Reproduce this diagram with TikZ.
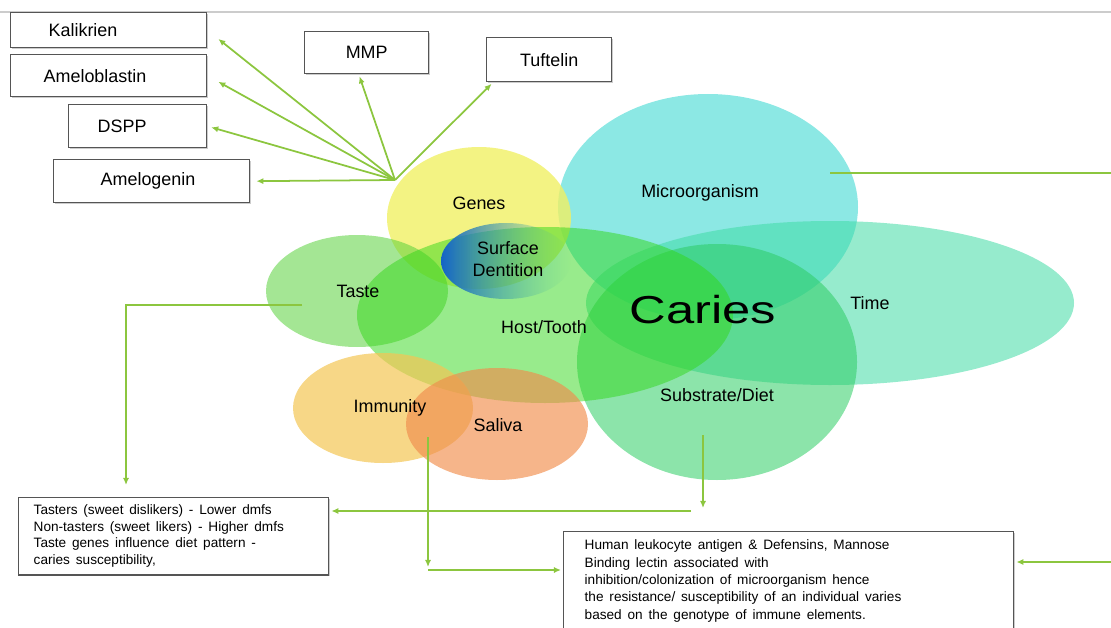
\documentclass[tikz,border=0pt]{standalone}
\usepackage{fontspec}
\setmainfont{Liberation Sans}
\usepackage{graphicx}
\usetikzlibrary{arrows.meta,shadows,fadings}

\definecolor{cGenes}{RGB}{240,240,100}
\definecolor{cMicro}{RGB}{78,220,213}
\definecolor{cTime}{RGB}{64,219,164}
\definecolor{cHost}{RGB}{50,215,25}
\definecolor{cTaste}{RGB}{90,210,60}
\definecolor{cDiet}{RGB}{45,205,100}
\definecolor{cImmun}{RGB}{243,198,84}
\definecolor{cSaliva}{RGB}{241,141,76}
\definecolor{cSurfL}{RGB}{20,100,200}
\definecolor{cSurfR}{RGB}{90,200,150}
\definecolor{cLink}{RGB}{140,198,63}
\definecolor{cFrame}{RGB}{85,85,85}

\newcommand\lbl[1]{{\fontsize{10.2}{13}\selectfont #1}}
\newcommand\boxtext[2]{{\fontsize{7.75}{#1}\selectfont\begin{tabular}{@{}l@{}}#2\end{tabular}}}

\begin{document}
\begin{tikzpicture}[x=0.02cm,y=-0.02cm,
    link/.style={draw=cLink,line width=1pt,-{Latex[length=4pt,width=3.5pt]}},
    frame/.style={draw=cFrame,line width=0.8pt,fill=white,
      drop shadow={shadow xshift=0.8pt,shadow yshift=-0.8pt,fill=black!40,opacity=0.5}},
    genebox/.style={frame,align=left,inner ysep=0pt},
    infobox/.style={frame,align=left}]
  \useasboundingbox (0,0) rectangle (1111,628);
  \draw[black!20,line width=1pt] (0,12) -- (1111,12);

  \fill[cMicro,opacity=0.65] (708,207) ellipse [x radius=150, y radius=113];
  \fill[cTime,opacity=0.55] (830,303) ellipse [x radius=244, y radius=82];
  \fill[cGenes,opacity=0.8] (479,218) ellipse [x radius=92, y radius=71];
  \fill[cTaste,opacity=0.55] (357,291) ellipse [x radius=91, y radius=56];
  \fill[cDiet,opacity=0.55] (717,362) ellipse [x radius=140, y radius=118];
  \fill[cHost,opacity=0.5] (545,315) ellipse [x radius=188, y radius=88];
  \fill[cImmun,opacity=0.7] (383,408) ellipse [x radius=90, y radius=55];
  \fill[cSaliva,opacity=0.65] (497,424) ellipse [x radius=91, y radius=56];
  \shade[left color=cSurfL,right color=cSurfR,path fading=east] (506,261) ellipse [x radius=65, y radius=38];

  \node (genesL) at (479,203) {\lbl{Genes}};
  \node (microL) at (700,193) {\lbl{Microorganism}};
  \node (surfL) at (508,261) {\lbl{\begin{tabular}{@{}c@{}}Surface\\Dentition\end{tabular}}};
  \node (tasteL) at (358,291) {\lbl{Taste}};
  \node (hostL) at (544,327) {\lbl{Host/Tooth}};
  \node (cariesL) at (703,310) {\scalebox{1.3}[1]{\fontsize{22.2}{26}\selectfont Caries}};
  \node (timeL) at (870,303) {\lbl{Time}};
  \node (dietL) at (717,395) {\lbl{Substrate/Diet}};
  \node (immunL) at (390,408) {\lbl{Immunity}};
  \node (salivaL) at (498,425) {\lbl{Saliva}};

  \node[genebox,anchor=north west,minimum width=3.92cm,minimum height=0.7cm,text width=2.4cm,inner xsep=0.76cm] (kal) at (10,12) {\lbl{Kalikrien}};
  \node[genebox,anchor=north west,minimum width=3.92cm,minimum height=0.84cm,text width=2.6cm,inner xsep=0.66cm] (amb) at (10,54) {\lbl{Ameloblastin}};
  \node[genebox,anchor=north west,minimum width=2.76cm,minimum height=0.86cm,text width=1.6cm,inner xsep=0.58cm] (dspp) at (68,104) {\lbl{DSPP}};
  \node[genebox,anchor=north west,minimum width=3.92cm,minimum height=0.86cm,text width=2.04cm,inner xsep=0.94cm] (amg) at (53,159) {\lbl{Amelogenin}};
  \node[genebox,anchor=north west,minimum width=2.48cm,minimum height=0.84cm,align=center] (mmp) at (304,31) {\lbl{MMP}};
  \node[genebox,anchor=north west,minimum width=2.5cm,minimum height=0.88cm,align=center] (tuf) at (486,37) {\lbl{Tuftelin}};

  \node[infobox,anchor=north west,text width=5.6cm,inner xsep=0.3cm,inner ysep=0.106cm] (taster) at (18,497)
    {\boxtext{9.47pt}{Tasters (sweet dislikers) - Lower dmfs\\Non-tasters (sweet likers) - Higher dmfs\\Taste genes influence diet pattern -\\caries susceptibility,}};
  \node[infobox,anchor=north west,text width=8.16cm,inner xsep=0.42cm,inner ysep=0.116cm] (immune) at (563,531)
    {\boxtext{9.9pt}{Human leukocyte antigen \& Defensins, Mannose\\Binding lectin associated with\\inhibition/colonization of microorganism hence\\the resistance/ susceptibility of an individual varies\\based on the genotype of immune elements.}};

  \coordinate (hub) at (395,180);
  \draw[link,shorten >=0.28cm] (hub) -- (kal.east);
  \draw[link,shorten >=0.25cm] (hub) -- (amb.east);
  \draw[link,shorten >=0.08cm] (hub) -- (dspp.east);
  \draw[link,shorten >=0.12cm] (hub) -- (amg.east);
  \draw[link,shorten >=0.04cm] (hub) -- (mmp.-110);
  \draw[link,shorten >=0.04cm] (hub) -- (tuf.-158);

  \coordinate (tasteOut) at (302,305);
  \coordinate (tasteEnd) at (126,485);
  \draw[link] (tasteOut) -| (tasteEnd);

  \coordinate (dietOut) at (703,435);
  \coordinate (dietEnd) at (703,508);
  \coordinate (dietLeft) at (691,511);
  \draw[link] (dietOut) -- (dietEnd);
  \draw[link,shorten >=0.04cm] (dietLeft) -- (taster.east |- dietLeft);

  \coordinate (salOut) at (428,437);
  \coordinate (salEnd) at (428,567);
  \coordinate (salTurn) at (428,570);
  \draw[link] (salOut) -- (salEnd);
  \draw[link,shorten >=0.04cm] (salTurn) -- (immune.west |- salTurn);

  \coordinate (microOut) at (830,173);
  \coordinate (farTop) at (1125,173);
  \coordinate (farBot) at (1125,562);
  \draw[link,shorten >=0.04cm] (microOut) -- (farTop) -- (farBot) -- (immune.east |- farBot);
\end{tikzpicture}
\end{document}
